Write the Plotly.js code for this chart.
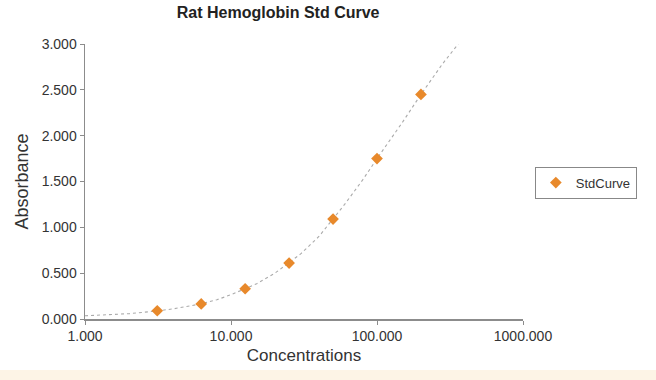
<!DOCTYPE html>
<html>
<head>
<meta charset="utf-8">
<script src="https://cdn.plot.ly/plotly-3.0.1.min.js"></script>
<style>html,body{margin:0;padding:0;background:#fff;}#chart{width:656px;height:380px;}</style>
</head>
<body>
<div id="chart"></div>
<script>
// Standard points (concentration, absorbance)
const stdConc = [3.125, 6.25, 12.5, 25, 50, 100, 200];
const stdAbs = [0.09, 0.165, 0.33, 0.61, 1.09, 1.75, 2.45];
// Fitted curve
const curveConc = [1, 1.5, 2, 3, 4, 6, 8, 10, 15, 20, 30, 40, 60, 80, 100, 150, 200, 280, 360];
const curveAbs = [0.035, 0.045, 0.058, 0.085, 0.11, 0.16, 0.21, 0.265, 0.385, 0.50, 0.71, 0.90, 1.25, 1.52, 1.75, 2.15, 2.45, 2.78, 3.0];
const xTickVals = [1, 10, 100, 1000];
const xTickText = ['1.000', '10.000', '100.000', '1000.000'];
const seriesName = 'StdCurve';

const font = 'Liberation Sans, Arial, sans-serif';
const traces = [
  {x: curveConc, y: curveAbs, type: 'scatter', mode: 'lines', showlegend: false,
   line: {color: '#ababab', width: 1.1, dash: 'dot'}, hoverinfo: 'skip'},
  {x: stdConc, y: stdAbs, type: 'scatter', mode: 'markers', name: seriesName,
   marker: {symbol: 'diamond', size: 9, color: '#e8892b'}}
];
const layout = {
  width: 656, height: 380,
  margin: {l: 85, r: 133, t: 44, b: 61},
  paper_bgcolor: '#ffffff', plot_bgcolor: '#ffffff',
  font: {family: font, color: '#333333', size: 14},
  title: {text: '<b>Rat Hemoglobin Std Curve</b>', font: {family: font, size: 16, color: '#222'},
          x: 0.424, xref: 'container', y: 0.968, yref: 'container', xanchor: 'center', yanchor: 'middle'},
  xaxis: {type: 'log', range: [0, 3], tickvals: xTickVals, ticktext: xTickText,
          showgrid: false, zeroline: false, showline: true, linecolor: '#8c8c8c', linewidth: 1.5,
          ticks: 'outside', ticklen: 4, tickcolor: '#8c8c8c', tickfont: {size: 14, color: '#333'},
          title: {text: 'Concentrations', font: {size: 17, color: '#333'}, standoff: 6}},
  yaxis: {range: [0, 3], dtick: 0.5, tickformat: '.3f',
          showgrid: false, zeroline: false, showline: true, linecolor: '#8c8c8c', linewidth: 1.5,
          ticks: 'outside', ticklen: 4, tickcolor: '#8c8c8c', tickfont: {size: 14, color: '#333'},
          title: {text: 'Absorbance', font: {size: 18, color: '#333'}, standoff: 8}},
  legend: {x: 1.027, y: 0.496, xanchor: 'left', yanchor: 'middle', bordercolor: '#888', borderwidth: 1,
           bgcolor: '#fff', font: {size: 13, color: '#333'}},
  shapes: [{type: 'rect', xref: 'paper', yref: 'paper', x0: -0.2, x1: 1.31, y0: -0.185, y1: -0.23,
            fillcolor: '#fdf4e6', line: {width: 0}, layer: 'below'}],
  showlegend: true
};
Plotly.newPlot('chart', traces, layout, {displayModeBar: false, staticPlot: true});
</script>
</body>
</html>
